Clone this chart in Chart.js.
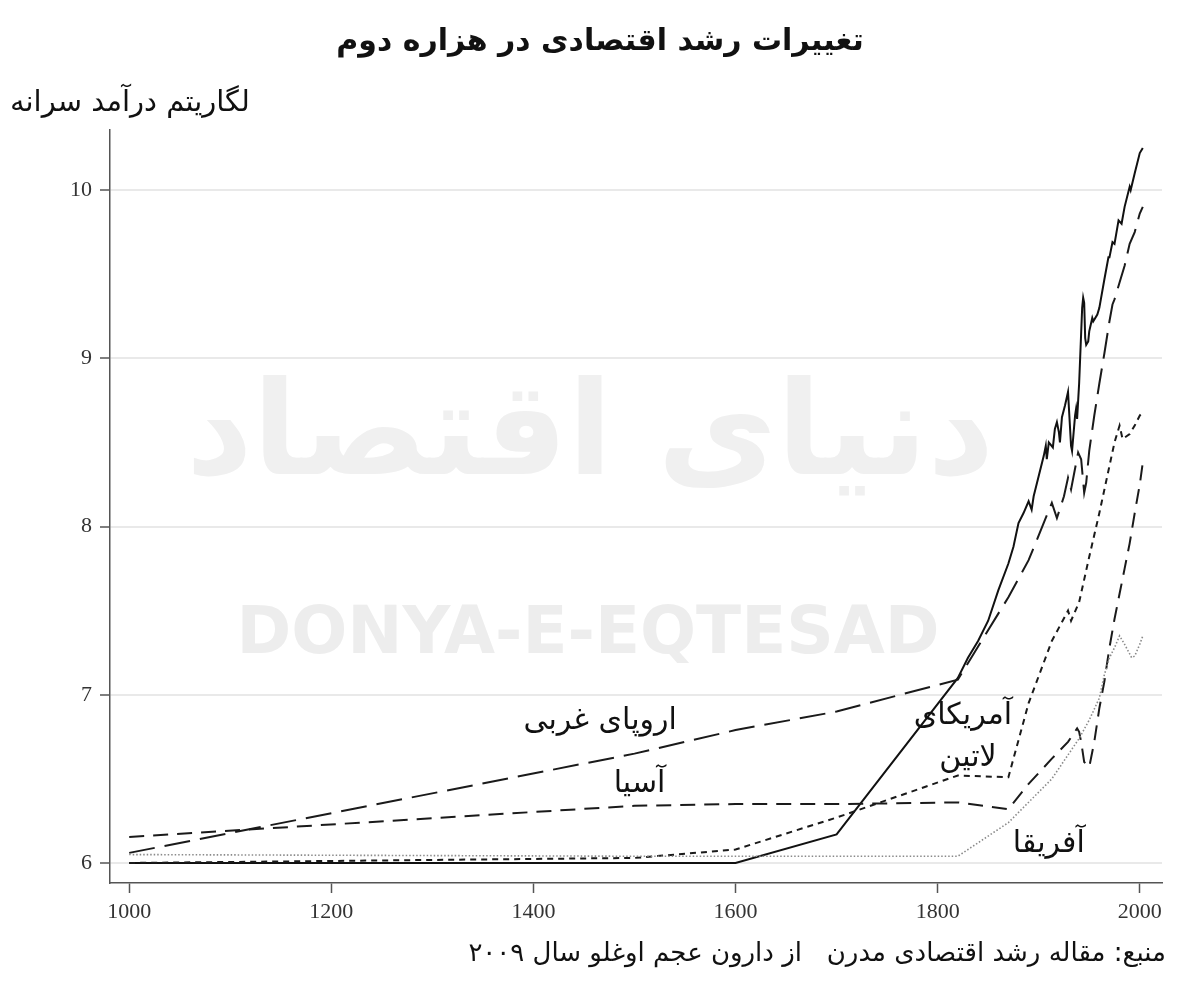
<!DOCTYPE html>
<html>
<head>
<meta charset="utf-8">
<script src="https://cdn.jsdelivr.net/npm/chart.js@4.4.1/dist/chart.umd.min.js"></script>
<style>
  html, body { margin: 0; padding: 0; background: #ffffff; }
  #wrap { position: relative; width: 1200px; height: 981px; }
</style>
</head>
<body>
<div id="wrap"><canvas id="c"></canvas></div>
<script>
// ---------- DATA ----------
const titleText = "تغییرات رشد اقتصادی در هزاره دوم";
const yAxisTitle = "لگاریتم درآمد سرانه";
const sourceText = "منبع: مقاله رشد اقتصادی مدرن   از دارون عجم اوغلو سال ۲۰۰۹";

const xTicks = [1000, 1200, 1400, 1600, 1800, 2000];
const yTicks = [6, 7, 8, 9, 10];

// Solid line (no label in the figure)
const offshootYears = [1000,1500,1600,1700,1820,1830,1840,1850,1860,1870,1875,1880,1885,1890,1893,1895,1900,1905,1907,1908,1910,1914,1916,1918,1920,1921,1923,1926,1929,1932,1933,1936,1937,1938,1940,1941,1942,1943,1944,1945,1946,1947,1949,1950,1953,1954,1958,1960,1965,1969,1970,1973,1975,1979,1982,1985,1990,1991,1995,2000,2003];
const offshootValues = [6.00,6.00,6.00,6.17,7.10,7.22,7.32,7.44,7.62,7.78,7.88,8.02,8.08,8.15,8.10,8.18,8.30,8.42,8.48,8.40,8.50,8.47,8.58,8.62,8.56,8.50,8.65,8.72,8.80,8.48,8.45,8.66,8.70,8.64,8.85,9.00,9.15,9.30,9.36,9.33,9.12,9.08,9.10,9.16,9.24,9.22,9.26,9.30,9.47,9.60,9.60,9.69,9.68,9.82,9.80,9.90,10.02,10.00,10.10,10.22,10.25];

// اروپای غربی
const europeYears = [1000,1500,1600,1700,1820,1870,1890,1913,1918,1925,1929,1932,1939,1942,1945,1947,1950,1955,1960,1965,1970,1973,1975,1980,1985,1990,1995,2000,2003];
const europeValues = [6.06,6.65,6.79,6.90,7.09,7.58,7.80,8.14,8.05,8.18,8.29,8.22,8.44,8.40,8.20,8.26,8.45,8.66,8.85,9.03,9.22,9.32,9.35,9.45,9.55,9.68,9.75,9.86,9.90];

// آسیا
const asiaYears = [1000,1500,1600,1700,1820,1870,1890,1913,1929,1938,1940,1942,1945,1950,1955,1960,1965,1970,1975,1980,1985,1990,1995,2000,2003];
const asiaValues = [6.155,6.34,6.35,6.35,6.36,6.32,6.47,6.62,6.72,6.80,6.78,6.72,6.60,6.57,6.72,6.92,7.08,7.28,7.45,7.60,7.75,7.90,8.08,8.25,8.38];

// آمریکای لاتین
const latinYears = [1000,1500,1600,1700,1820,1870,1890,1913,1929,1932,1940,1950,1960,1970,1975,1980,1983,1990,1995,2000,2003];
const latinValues = [6.00,6.03,6.08,6.27,6.52,6.51,6.95,7.32,7.50,7.44,7.55,7.82,8.08,8.36,8.50,8.60,8.52,8.55,8.60,8.66,8.68];

// آفریقا
const africaYears = [1000,1500,1600,1700,1820,1870,1913,1940,1950,1960,1965,1970,1975,1980,1985,1992,1995,2000,2003];
const africaValues = [6.05,6.04,6.04,6.04,6.04,6.24,6.50,6.74,6.85,6.98,7.12,7.22,7.28,7.35,7.30,7.22,7.23,7.30,7.35];

// in-plot series labels: [text, year, value]
const seriesLabels = [
  ["اروپای غربی", 1466, 6.84],
  ["آسیا", 1505, 6.47],
  ["آمریکای", 1825, 6.87],
  ["لاتین", 1830, 6.62],
  ["آفریقا", 1910, 6.11]
];

// ---------- CHART ----------
const pts = (xs, ys) => xs.map((x, i) => ({ x: x, y: ys[i] }));
const persianFont = '"DejaVu Sans", sans-serif';

const textPlugin = {
  id: 'texts',
  beforeDatasetsDraw(chart) {
    const ctx = chart.ctx;
    ctx.save();
    // watermarks
    ctx.fillStyle = '#ededed';
    ctx.textAlign = 'center';
    ctx.textBaseline = 'middle';
    ctx.font = 'bold 66px "DejaVu Sans", sans-serif';
    ctx.fillText('DONYA-E-EQTESAD', 588, 636);
    ctx.direction = 'rtl';
    ctx.fillStyle = '#f0f0f0';
    ctx.font = 'bold 130px ' + persianFont;
    ctx.fillText('دنیای اقتصاد', 590, 440);
    ctx.restore();
  },
  afterDraw(chart) {
    const ctx = chart.ctx;
    const xs = chart.scales.x, ys = chart.scales.y;
    ctx.save();
    ctx.direction = 'rtl';
    ctx.fillStyle = '#111';
    ctx.textBaseline = 'middle';
    // title
    ctx.textAlign = 'center';
    ctx.font = 'bold 30px ' + persianFont;
    ctx.fillText(titleText, 600, 42);
    // y axis title
    ctx.textAlign = 'left';
    ctx.font = '29px ' + persianFont;
    ctx.fillText(yAxisTitle, 10, 103);
    // source
    ctx.textAlign = 'right';
    ctx.font = '26px ' + persianFont;
    ctx.fillText(sourceText, 1166, 954);
    // series labels
    ctx.textAlign = 'center';
    ctx.font = '30px ' + persianFont;
    seriesLabels.forEach(l => {
      ctx.fillText(l[0], xs.getPixelForValue(l[1]), ys.getPixelForValue(l[2]));
    });
    ctx.restore();
  }
};

const common = { pointRadius: 0, tension: 0, fill: false };

new Chart(document.getElementById('c'), {
  type: 'line',
  data: {
    datasets: [
      Object.assign({ label: 'Africa', data: pts(africaYears, africaValues), borderColor: '#8a8a8a', borderWidth: 1.6, borderDash: [1.5, 2] }, common),
      Object.assign({ label: 'Latin America', data: pts(latinYears, latinValues), borderColor: '#1a1a1a', borderWidth: 2, borderDash: [6, 5] }, common),
      Object.assign({ label: 'Asia', data: pts(asiaYears, asiaValues), borderColor: '#1a1a1a', borderWidth: 2, borderDash: [15, 9] }, common),
      Object.assign({ label: 'Western Europe', data: pts(europeYears, europeValues), borderColor: '#1a1a1a', borderWidth: 2, borderDash: [26, 10] }, common),
      Object.assign({ label: 'Offshoots', data: pts(offshootYears, offshootValues), borderColor: '#111', borderWidth: 2 }, common)
    ]
  },
  options: {
    responsive: true,
    maintainAspectRatio: false,
    animation: false,
    layout: { padding: { top: 130, right: 38, bottom: 0, left: 0 } },
    plugins: { legend: { display: false }, tooltip: { enabled: false }, title: { display: false } },
    scales: {
      x: {
        type: 'linear',
        min: 981,
        max: 2022,
        afterBuildTicks: a => { a.ticks = xTicks.map(v => ({ value: v })); },
        afterFit: a => { a.height = 98; },
        grid: { drawOnChartArea: false, drawTicks: true, tickLength: 10, tickColor: '#555', tickWidth: 1.5 },
        border: { display: true, color: '#555', width: 1.5 },
        ticks: { color: '#333', padding: 6, maxRotation: 0, autoSkip: false, font: { family: '"Liberation Serif", serif', size: 22 }, callback: v => String(v) }
      },
      y: {
        type: 'linear',
        min: 5.881,
        max: 10.357,
        afterBuildTicks: a => { a.ticks = yTicks.map(v => ({ value: v })); },
        afterFit: a => { a.width = 110; },
        grid: { drawOnChartArea: true, color: '#e9e9e9', lineWidth: 2, drawTicks: true, tickLength: 10, tickColor: '#555', tickWidth: 1.5 },
        border: { display: true, color: '#555', width: 1.5 },
        ticks: { color: '#333', padding: 8, autoSkip: false, font: { family: '"Liberation Serif", serif', size: 22 }, callback: v => String(v) }
      }
    }
  },
  plugins: [textPlugin]
});
</script>
</body>
</html>
